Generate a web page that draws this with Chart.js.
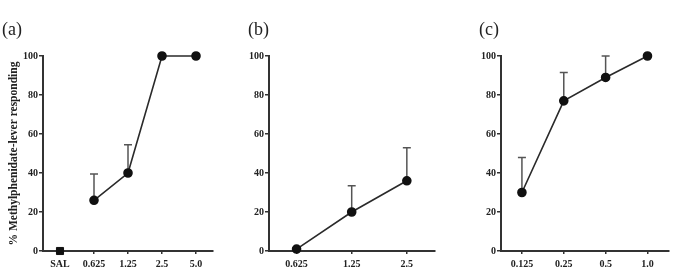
<!DOCTYPE html>
<html>
<head>
<meta charset="utf-8">
<script src="https://cdn.jsdelivr.net/npm/chart.js@4.4.0/dist/chart.umd.min.js"></script>
<style>
  body { margin: 0; background: #fff; }
  .panel { position: absolute; top: 0; height: 270px; }
</style>
</head>
<body>
<div class="panel" style="left:0;width:220px"><canvas id="chartA"></canvas></div>
<div class="panel" style="left:220px;width:220px"><canvas id="chartB"></canvas></div>
<div class="panel" style="left:440px;width:234px"><canvas id="chartC"></canvas></div>
<script>
// panel (a)
const dosesA = ["SAL", "0.625", "1.25", "2.5", "5.0"];
const salineA = [0, null, null, null, null];
const meanA = [null, 26, 40, 100, 100];
const semA = [null, 13.5, 14.5, null, null];

// panel (b)
const dosesB = ["0.625", "1.25", "2.5"];
const meanB = [1, 20, 36];
const semB = [null, 13.5, 17];

// panel (c)
const dosesC = ["0.125", "0.25", "0.5", "1.0"];
const meanC = [30, 77, 89, 100];
const semC = [18, 14.5, 11, null];

const yTicks = [0, 20, 40, 60, 80, 100];

const INK = "#222";
const SERIF = "'Liberation Serif', 'Times New Roman', serif";

// upward-only SEM bars, drawn under the points
const errorBars = {
  id: "errorBars",
  beforeDatasetsDraw(chart) {
    const ctx = chart.ctx;
    const y = chart.scales.y;
    chart.data.datasets.forEach((ds, i) => {
      if (!ds.errors) return;
      const meta = chart.getDatasetMeta(i);
      ctx.save();
      ctx.strokeStyle = "#555";
      ctx.lineWidth = 1.5;
      meta.data.forEach((pt, j) => {
        const e = ds.errors[j];
        if (e == null || ds.data[j] == null) return;
        const top = y.getPixelForValue(ds.data[j] + e);
        ctx.beginPath();
        ctx.moveTo(pt.x, pt.y);
        ctx.lineTo(pt.x, top);
        ctx.moveTo(pt.x - 4, top);
        ctx.lineTo(pt.x + 4, top);
        ctx.stroke();
      });
      ctx.restore();
    });
  }
};

function makePanel(id, opts) {
  const datasets = [];
  if (opts.saline) {
    datasets.push({
      data: opts.saline,
      showLine: false,
      pointStyle: "rect",
      pointRadius: 5,
      backgroundColor: "#111",
      borderColor: "#111",
      clip: false,
    });
  }
  datasets.push({
    data: opts.mean,
    errors: opts.sem,
    borderColor: "#2a2a2a",
    borderWidth: 1.6,
    pointRadius: 4,
    pointBackgroundColor: "#111",
    pointBorderColor: "#111",
    tension: 0,
    clip: false,
  });

  return new Chart(document.getElementById(id), {
    type: "line",
    data: { labels: opts.labels, datasets },
    plugins: [errorBars],
    options: {
      responsive: true,
      maintainAspectRatio: false,
      animation: false,
      layout: { padding: { left: opts.padLeft, right: opts.padRight, top: 0, bottom: 0 } },
      plugins: {
        legend: { display: false },
        tooltip: { enabled: false },
        title: {
          display: true,
          text: opts.title,
          align: "start",
          color: INK,
          font: { family: SERIF, size: 18, weight: "normal" },
          padding: { top: 19, bottom: 15.4 },
        },
      },
      scales: {
        x: {
          type: "category",
          offset: true,
          afterFit: s => { s.height = 19; },
          border: { display: true, color: "#333", width: 2 },
          grid: { display: true, drawOnChartArea: false, drawTicks: true, tickLength: 3, color: "#333", lineWidth: 1.5, offset: false },
          ticks: { color: INK, padding: 4, font: { family: SERIF, size: 10, weight: "bold" }, maxRotation: 0, autoSkip: false },
        },
        y: {
          min: 0,
          max: 100,
          afterBuildTicks: s => { s.ticks = yTicks.map(v => ({ value: v })); },
          afterFit: s => { s.width = opts.yWidth; },
          border: { display: true, color: "#333", width: 2 },
          grid: { display: true, drawOnChartArea: false, drawTicks: true, tickLength: 4, color: "#333", lineWidth: 1.5 },
          ticks: { color: INK, padding: 1, font: { family: SERIF, size: 10, weight: "bold" } },
          title: {
            display: !!opts.yTitle,
            text: opts.yTitle || "",
            color: INK,
            font: { family: SERIF, size: 11.5, weight: "bold" },
            padding: { top: 5, bottom: 0 },
          },
        },
      },
    },
  });
}

makePanel("chartA", {
  title: "(a)", labels: dosesA, saline: salineA, mean: meanA, sem: semA,
  padLeft: 2, padRight: 7, yWidth: 41, yTitle: "% Methylphenidate-lever responding",
});
makePanel("chartB", {
  title: "(b)", labels: dosesB, mean: meanB, sem: semB,
  padLeft: 28, padRight: 0, yWidth: 21,
});
makePanel("chartC", {
  title: "(c)", labels: dosesC, mean: meanC, sem: semC,
  padLeft: 39, padRight: 1, yWidth: 22,
});
</script>
</body>
</html>
